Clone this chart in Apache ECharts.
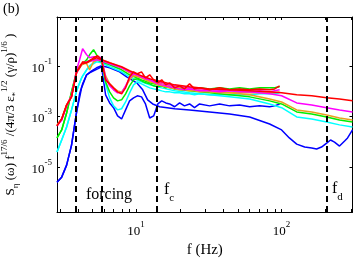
<!DOCTYPE html>
<html><head><meta charset="utf-8">
<script src="https://cdn.jsdelivr.net/npm/echarts@6/dist/echarts.min.js"></script>
<style>html,body{margin:0;padding:0;background:#fff}#c{width:354px;height:259px}</style>
</head><body><div id="c"></div>
<script>
// frequencies (Hz)
const freqNoisy = [2.86,3.08,3.33,3.60,3.90,4.09,4.29,4.57,4.79,5.10,5.44,5.79,6.17,6.58,7.00,7.46,7.95,8.47,9.02,9.61,10.2,10.9,11.6,12.4,13.2,14.1,15.0,16.0,17.0,18.4,19.9,21.5,23.3,25.2,27.3,32.0,37.5,43.9,51.4,60.3,70.6,82.7,89.5,96.9];
const freqSmooth = [2.86,3.08,3.33,3.60,3.90,4.22,4.57,4.95,5.35,5.79,6.58,7.95,9.02,10.9,12.4,15.0,18.4,23.3,32.0,43.9,60.3,82.7,100,127,161,204,250,307];
const freqBlueSmooth = [2.86,3.08,3.33,3.60,3.90,4.22,4.57,4.95,5.35,5.79,6.58,7.70,8.61,10.1,11.1,12.0,13.0,14.5,18.4,23.3,32.0,43.9,60.3,82.7,100,113,127,144,161,174,188,204,217,231,250,271,284,307];

// noisy spectra (to ~100 Hz)
const redNoisy = [0.00042,0.00079,0.0028,0.0059,0.0578,0.0833,0.144,0.132,0.158,0.208,0.249,0.173,0.0278,0.0193,0.0134,0.0093,0.0078,0.0134,0.0366,0.0578,0.0482,0.0578,0.0334,0.044,0.0278,0.0212,0.0278,0.0176,0.0212,0.0134,0.0161,0.0122,0.0193,0.0122,0.0134,0.0112,0.0134,0.0112,0.0122,0.0112,0.0122,0.0112,0.0122,0.0161];
const magentaNoisy = [0.00042,0.00072,0.0026,0.0065,0.0694,0.173,0.473,0.273,0.208,0.228,0.228,0.208,0.0334,0.0161,0.0112,0.0085,0.0085,0.0161,0.0334,0.0482,0.044,0.0366,0.0305,0.0278,0.0232,0.0193,0.0176,0.0161,0.0147,0.0134,0.0122,0.0112,0.0122,0.0112,0.0102,0.0102,0.0093,0.0102,0.0093,0.0093,0.0102,0.0093,0.0102,0.0112];
const orangeNoisy = [0.00046,0.00079,0.0028,0.0065,0.0528,0.1,0.132,0.12,0.0694,0.144,0.173,0.173,0.0401,0.0193,0.0134,0.0102,0.0093,0.0147,0.0278,0.0401,0.0366,0.0334,0.0278,0.0232,0.0212,0.0176,0.0161,0.0147,0.0134,0.0122,0.0112,0.0112,0.0102,0.0102,0.0093,0.0093,0.0085,0.0085,0.0085,0.0085,0.0085,0.0085,0.0085,0.0093];
const greenNoisy = [0.00014,0.00029,0.00136,0.0093,0.0578,0.1,0.12,0.173,0.273,0.432,0.228,0.173,0.0232,0.0093,0.0054,0.0041,0.0045,0.0078,0.0161,0.0278,0.0305,0.0254,0.0212,0.0193,0.0161,0.0147,0.0161,0.0134,0.0147,0.0122,0.0134,0.0122,0.0134,0.0122,0.0134,0.0122,0.0134,0.0122,0.0134,0.0122,0.0134,0.0134,0.0134,0.0147];
const cyanNoisy = [3.9e-5,0.000116,0.00038,0.0018,0.0102,0.0212,0.0401,0.0694,0.1,0.132,0.173,0.144,0.0193,0.0054,0.0026,0.0018,0.002,0.0037,0.0085,0.0176,0.0232,0.0193,0.0161,0.0134,0.0122,0.0112,0.0102,0.0093,0.0093,0.0085,0.0085,0.0078,0.0078,0.0071,0.0078,0.0071,0.0071,0.0071,0.0071,0.0071,0.0078,0.0078,0.0078,0.0085];
const blueNoisy = [2.49e-6,3.94e-6,1.18e-5,7.3e-5,0.0015,0.0078,0.0193,0.044,0.0528,0.0634,0.076,0.0913,0.0071,0.0034,0.0022,0.00104,0.00079,0.0018,0.0041,0.0054,0.0065,0.0059,0.0031,0.00086,0.00104,0.0031,0.0041,0.0034,0.0031,0.0024,0.0034,0.0026,0.0031,0.0022,0.0031,0.0026,0.0031,0.0026,0.0028,0.0024,0.0026,0.0024,0.0026,0.0031];

// smooth spectra (full range)
const redSmooth = [0.00042,0.00079,0.0028,0.0059,0.0578,0.12,0.132,0.173,0.208,0.173,0.132,0.0913,0.0634,0.0401,0.0305,0.0232,0.0176,0.0147,0.0122,0.0112,0.0102,0.0093,0.0085,0.0071,0.0065,0.0054,0.0049,0.0041];
const magentaSmooth = [0.00042,0.00072,0.0026,0.0065,0.0528,0.12,0.144,0.158,0.173,0.158,0.12,0.0833,0.0578,0.0366,0.0278,0.0212,0.0161,0.0134,0.0112,0.0102,0.0093,0.0078,0.0065,0.0034,0.0028,0.0022,0.0018,0.0015];
const orangeSmooth = [0.00046,0.00079,0.0028,0.0065,0.0528,0.11,0.132,0.158,0.173,0.173,0.132,0.0833,0.0528,0.0334,0.0254,0.0193,0.0147,0.0122,0.0102,0.0085,0.0071,0.0049,0.0037,0.0018,0.0015,0.00114,0.00086,0.00072];
const greenSmooth = [0.00014,0.00029,0.00136,0.0093,0.0578,0.11,0.144,0.173,0.173,0.144,0.11,0.0694,0.044,0.0278,0.0212,0.0161,0.0122,0.0102,0.0085,0.0071,0.0059,0.0041,0.0031,0.0015,0.00124,0.00095,0.00072,0.0006];
const cyanSmooth = [3.9e-5,0.000116,0.00038,0.0018,0.0102,0.0334,0.0694,0.11,0.144,0.132,0.0913,0.0578,0.0366,0.0232,0.0176,0.0134,0.0102,0.0085,0.0071,0.0059,0.0049,0.0031,0.0022,0.00095,0.00079,0.0006,0.00046,0.00038];
const blueSmooth = [2.49e-6,3.94e-6,1.18e-5,7.3e-5,0.0015,0.0134,0.044,0.0634,0.0833,0.1,0.0833,0.0578,0.0366,0.0212,0.0112,0.0045,0.0031,0.0024,0.002,0.0018,0.0015,0.00124,0.00095,0.0005,0.00029,0.00014,8.0e-5,6.1e-5,5.6e-5,5.1e-5,6.1e-5,8.8e-5,0.000116,9.6e-5,6.7e-5,0.000106,0.00014,0.00029];

// reference frequencies (dashed lines)
const forcingBand = [3.85, 5.8];
const fc = 13.8;
const fd = 205;

// axes
const xMin = 2.86, xMax = 307;
const yMin = 1.65e-7, yMax = 8.5;
const xTickValues = [3,4,5,6,7,8,9,10,20,30,40,50,60,70,80,90,100,200,300];
const xLabelValues = [10,100];
const yTickValues = [1e-5,1e-3,1e-1];

const FONT = 'Liberation Serif';
const pairs = (xs, ys) => xs.map((x, i) => [x, ys[i]]);

const palette = {blue:'#0000ff', cyan:'#00ffff', green:'#00ee00', orange:'#e8a020', magenta:'#ff00ff', red:'#ff0000'};
const groups = [
  ['blue', freqBlueSmooth, blueSmooth, blueNoisy],
  ['cyan', freqSmooth, cyanSmooth, cyanNoisy],
  ['green', freqSmooth, greenSmooth, greenNoisy],
  ['orange', freqSmooth, orangeSmooth, orangeNoisy],
  ['magenta', freqSmooth, magentaSmooth, magentaNoisy],
  ['red', freqSmooth, redSmooth, redNoisy]
];
const series = [];
groups.forEach(([c, fs, sm, nz]) => {
  series.push({type:'line', name:c+' smooth', data:pairs(fs, sm), showSymbol:false, symbol:'none',
    lineStyle:{color:palette[c], width:1.5}, itemStyle:{color:palette[c]}, animation:false, silent:true});
  series.push({type:'line', name:c+' noisy', data:pairs(freqNoisy, nz), showSymbol:false, symbol:'none',
    lineStyle:{color:palette[c], width:1.5}, itemStyle:{color:palette[c]}, animation:false, silent:true});
});
series[series.length-1].markLine = {
  silent:true, symbol:'none', animation:false, label:{show:false},
  lineStyle:{color:'#000', width:2, type:[6,4]},
  data:[{xAxis:forcingBand[0]},{xAxis:forcingBand[1]},{xAxis:fc},{xAxis:fd}]
};

const expLabel = v => {
  const e = Math.round(Math.log10(v));
  if (Math.abs(Math.log10(v) - e) > 1e-6) return '';
  return '{b|10}{s|' + e + '}';
};
const tickRich = {
  b:{fontFamily:FONT, fontSize:13, color:'#000', lineHeight:18, verticalAlign:'bottom'},
  s:{fontFamily:FONT, fontSize:9, color:'#000', lineHeight:18, verticalAlign:'top'}
};
const axisLine = {show:true, lineStyle:{color:'#000', width:1}};

const chart = echarts.init(document.getElementById('c'), null, {renderer:'canvas'});
chart.setOption({
  animation:false,
  backgroundColor:'#fff',
  grid:{left:57, top:17, right:1.5, bottom:47, containLabel:false, outerBoundsMode:'none'},
  xAxis:[
    {type:'log', logBase:10, min:xMin, max:xMax, position:'bottom',
     axisLine, splitLine:{show:false},
     axisTick:{show:true, inside:true, length:3, customValues:xTickValues, lineStyle:{color:'#000'}},
     axisLabel:{show:true, margin:8, customValues:xLabelValues, formatter:expLabel, rich:tickRich},
     name:'f (Hz)', nameLocation:'middle', nameGap:30,
     nameTextStyle:{fontFamily:FONT, fontSize:15, color:'#000'}},
    {type:'log', logBase:10, min:xMin, max:xMax, position:'top',
     axisLine, splitLine:{show:false},
     axisTick:{show:true, inside:true, length:3, customValues:xTickValues, lineStyle:{color:'#000'}},
     axisLabel:{show:false}}
  ],
  yAxis:[
    {type:'log', logBase:10, min:yMin, max:yMax, position:'left',
     axisLine, splitLine:{show:false},
     axisTick:{show:true, inside:true, length:3, customValues:yTickValues, lineStyle:{color:'#000'}},
     axisLabel:{show:true, margin:5, customValues:yTickValues, formatter:expLabel, rich:tickRich},
     name:'{b|S}{sub|η}{b| (ω) f}{sup|17/6}{b| /(4π/3 ε}{sub|*}{sup|1/2}{b| (γ/ρ)}{sup|1/6}{b| )}',
     nameLocation:'middle', nameGap:31, nameRotate:90,
     nameTextStyle:{rich:{
       b:{fontFamily:FONT, fontSize:13, color:'#000', lineHeight:20, verticalAlign:'middle'},
       sub:{fontFamily:FONT, fontSize:9, color:'#000', lineHeight:20, verticalAlign:'bottom'},
       sup:{fontFamily:FONT, fontSize:9, color:'#000', lineHeight:20, verticalAlign:'top'}
     }}},
    {type:'log', logBase:10, min:yMin, max:yMax, position:'right',
     axisLine, splitLine:{show:false},
     axisTick:{show:true, inside:true, length:3, customValues:yTickValues, lineStyle:{color:'#000'}},
     axisLabel:{show:false}}
  ],
  series,
  graphic:[
    {type:'text', x:3, y:9, style:{text:'(b)', font:'14px "Liberation Serif"', fill:'#000', verticalAlign:'middle'}},
    {type:'text', x:109, y:195, style:{text:'forcing', font:'16px "Liberation Serif"', fill:'#000', align:'center', verticalAlign:'middle'}},
    {type:'text', x:164, y:193, style:{text:'{a|f}{c|c}', fill:'#000', verticalAlign:'middle',
      rich:{a:{fontFamily:FONT, fontSize:16, lineHeight:22, verticalAlign:'top'}, c:{fontFamily:FONT, fontSize:11, lineHeight:22, verticalAlign:'bottom'}}}},
    {type:'text', x:332, y:192, style:{text:'{a|f}{c|d}', fill:'#000', verticalAlign:'middle',
      rich:{a:{fontFamily:FONT, fontSize:16, lineHeight:22, verticalAlign:'top'}, c:{fontFamily:FONT, fontSize:11, lineHeight:22, verticalAlign:'bottom'}}}}
  ]
});
</script></body></html>
